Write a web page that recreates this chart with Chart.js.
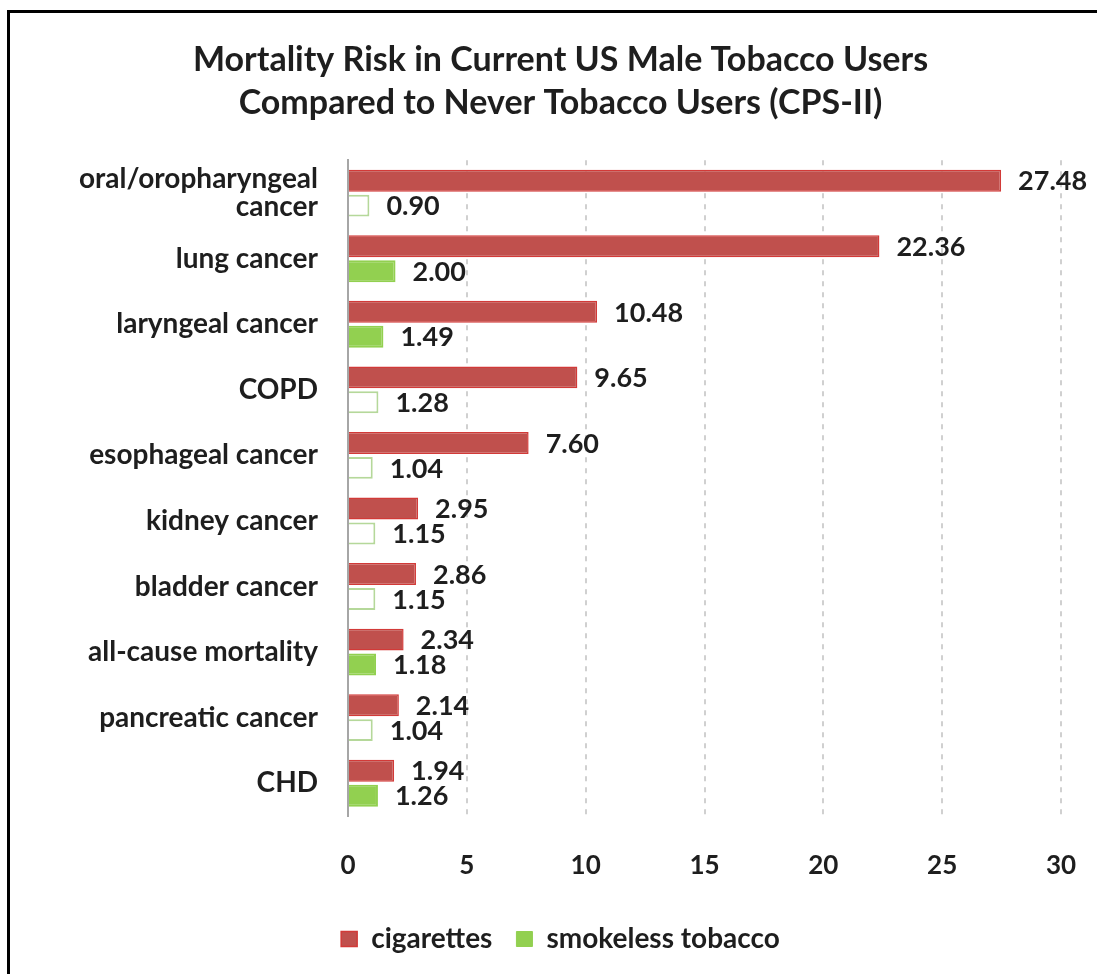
<!DOCTYPE html>
<html>
<head>
<meta charset="utf-8">
<script src="https://cdn.jsdelivr.net/npm/chart.js@4.4.1/dist/chart.umd.min.js"></script>
<style>
  html, body { margin: 0; padding: 0; background: #fff; }
  #wrap { position: relative; width: 1097px; height: 974px; overflow: hidden; }
  #c { position: absolute; left: 0; top: 0; }
  #frame { position: absolute; left: 7px; top: 10px; width: 1200px; height: 1200px;
           border-top: 3px solid #000; border-left: 3px solid #000; pointer-events: none; }
</style>
</head>
<body>
<div id="wrap">
  <canvas id="c" width="1097" height="974"></canvas>
  <div id="frame"></div>
</div>
<script>
const categories = [
  ['oral/oropharyngeal', 'cancer'],
  'lung cancer',
  'laryngeal cancer',
  'COPD',
  'esophageal cancer',
  'kidney cancer',
  'bladder cancer',
  'all-cause mortality',
  'pancreatic cancer',
  'CHD'
];
const cigarettes = [27.48, 22.36, 10.48, 9.65, 7.60, 2.95, 2.86, 2.34, 2.14, 1.94];
const smokeless  = [0.90, 2.00, 1.49, 1.28, 1.04, 1.15, 1.15, 1.18, 1.04, 1.26];
// whether the smokeless bar is drawn filled (statistically significant) or hollow
const smokelessFilled = [false, true, true, false, false, false, false, true, false, true];
const xTicks = [0, 5, 10, 15, 20, 25, 30];
const seriesNames = ['cigarettes', 'smokeless tobacco'];

const RED = '#C0504D', RED_BORDER = '#D23A38';
const GREEN = '#92D050', GREEN_LIGHT = '#B5D89A';
const FONT = 'Lato, "Liberation Sans", sans-serif';
const TXT = '#1e1e1e';

const valueLabels = {
  id: 'valueLabels',
  afterDatasetsDraw(chart) {
    const ctx = chart.ctx;
    ctx.save();
    ctx.font = 'bold 27px ' + FONT;
    ctx.fillStyle = TXT;
    ctx.textAlign = 'left';
    ctx.textBaseline = 'middle';
    chart.data.datasets.forEach((ds, di) => {
      const meta = chart.getDatasetMeta(di);
      meta.data.forEach((bar, i) => {
        ctx.fillText(ds.data[i].toFixed(2), bar.x + 17, bar.y + 1);
      });
    });
    ctx.restore();
  }
};

new Chart(document.getElementById('c'), {
  type: 'bar',
  data: {
    labels: categories,
    datasets: [
      {
        label: seriesNames[0],
        data: cigarettes,
        backgroundColor: RED,
        borderColor: RED_BORDER,
        borderWidth: 1.5,
        categoryPercentage: 0.76,
        barPercentage: 0.88
      },
      {
        label: seriesNames[1],
        data: smokeless,
        backgroundColor: smokelessFilled.map(f => f ? GREEN : '#FFFFFF'),
        borderColor: smokelessFilled.map(f => f ? GREEN : GREEN_LIGHT),
        borderWidth: 2,
        categoryPercentage: 0.76,
        barPercentage: 0.88
      }
    ]
  },
  options: {
    indexAxis: 'y',
    responsive: false,
    animation: false,
    devicePixelRatio: 1,
    layout: { padding: { left: 60, right: 36, top: 30, bottom: 11 } },
    plugins: {
      title: {
        display: true,
        text: ['Mortality Risk in Current US Male Tobacco Users', 'Compared to Never Tobacco Users (CPS-II)'],
        color: TXT,
        font: { family: FONT, size: 34, weight: 'bold', lineHeight: 1.27 },
        padding: { top: 8, bottom: 36 }
      },
      legend: {
        position: 'bottom',
        labels: {
          color: TXT,
          font: { family: FONT, size: 28, weight: 'bold' },
          boxWidth: 16,
          boxHeight: 15,
          padding: 24,
          generateLabels() {
            return [
              { text: seriesNames[0], fillStyle: RED, strokeStyle: RED_BORDER, lineWidth: 1.5, fontColor: TXT, datasetIndex: 0 },
              { text: seriesNames[1], fillStyle: GREEN, strokeStyle: GREEN, lineWidth: 1, fontColor: TXT, datasetIndex: 1 }
            ];
          }
        }
      },
      tooltip: { enabled: false }
    },
    scales: {
      x: {
        min: xTicks[0],
        max: xTicks[xTicks.length - 1],
        afterBuildTicks(scale) { scale.ticks = xTicks.map(v => ({ value: v })); },
        afterFit(scale) { scale.height = 85; scale.paddingRight = 0; scale.paddingLeft = 0; },
        border: { display: false, dash: [5, 6] },
        grid: {
          drawTicks: false,
          color: c => (c.tick && c.tick.value === 0) ? 'rgba(0,0,0,0)' : '#D0D0D0',
          lineWidth: 2
        },
        ticks: {
          color: TXT,
          padding: 34,
          font: { family: FONT, size: 26, weight: 'bold' }
        }
      },
      y: {
        afterFit(scale) { scale.width = 288; },
        border: { display: true, color: '#A6A6A6', width: 2 },
        grid: { display: false, drawTicks: false },
        ticks: {
          color: TXT,
          padding: 30,
          font: { family: FONT, size: 28, weight: 'bold', lineHeight: 1.0 }
        }
      }
    }
  },
  plugins: [valueLabels]
});
</script>
</body>
</html>
